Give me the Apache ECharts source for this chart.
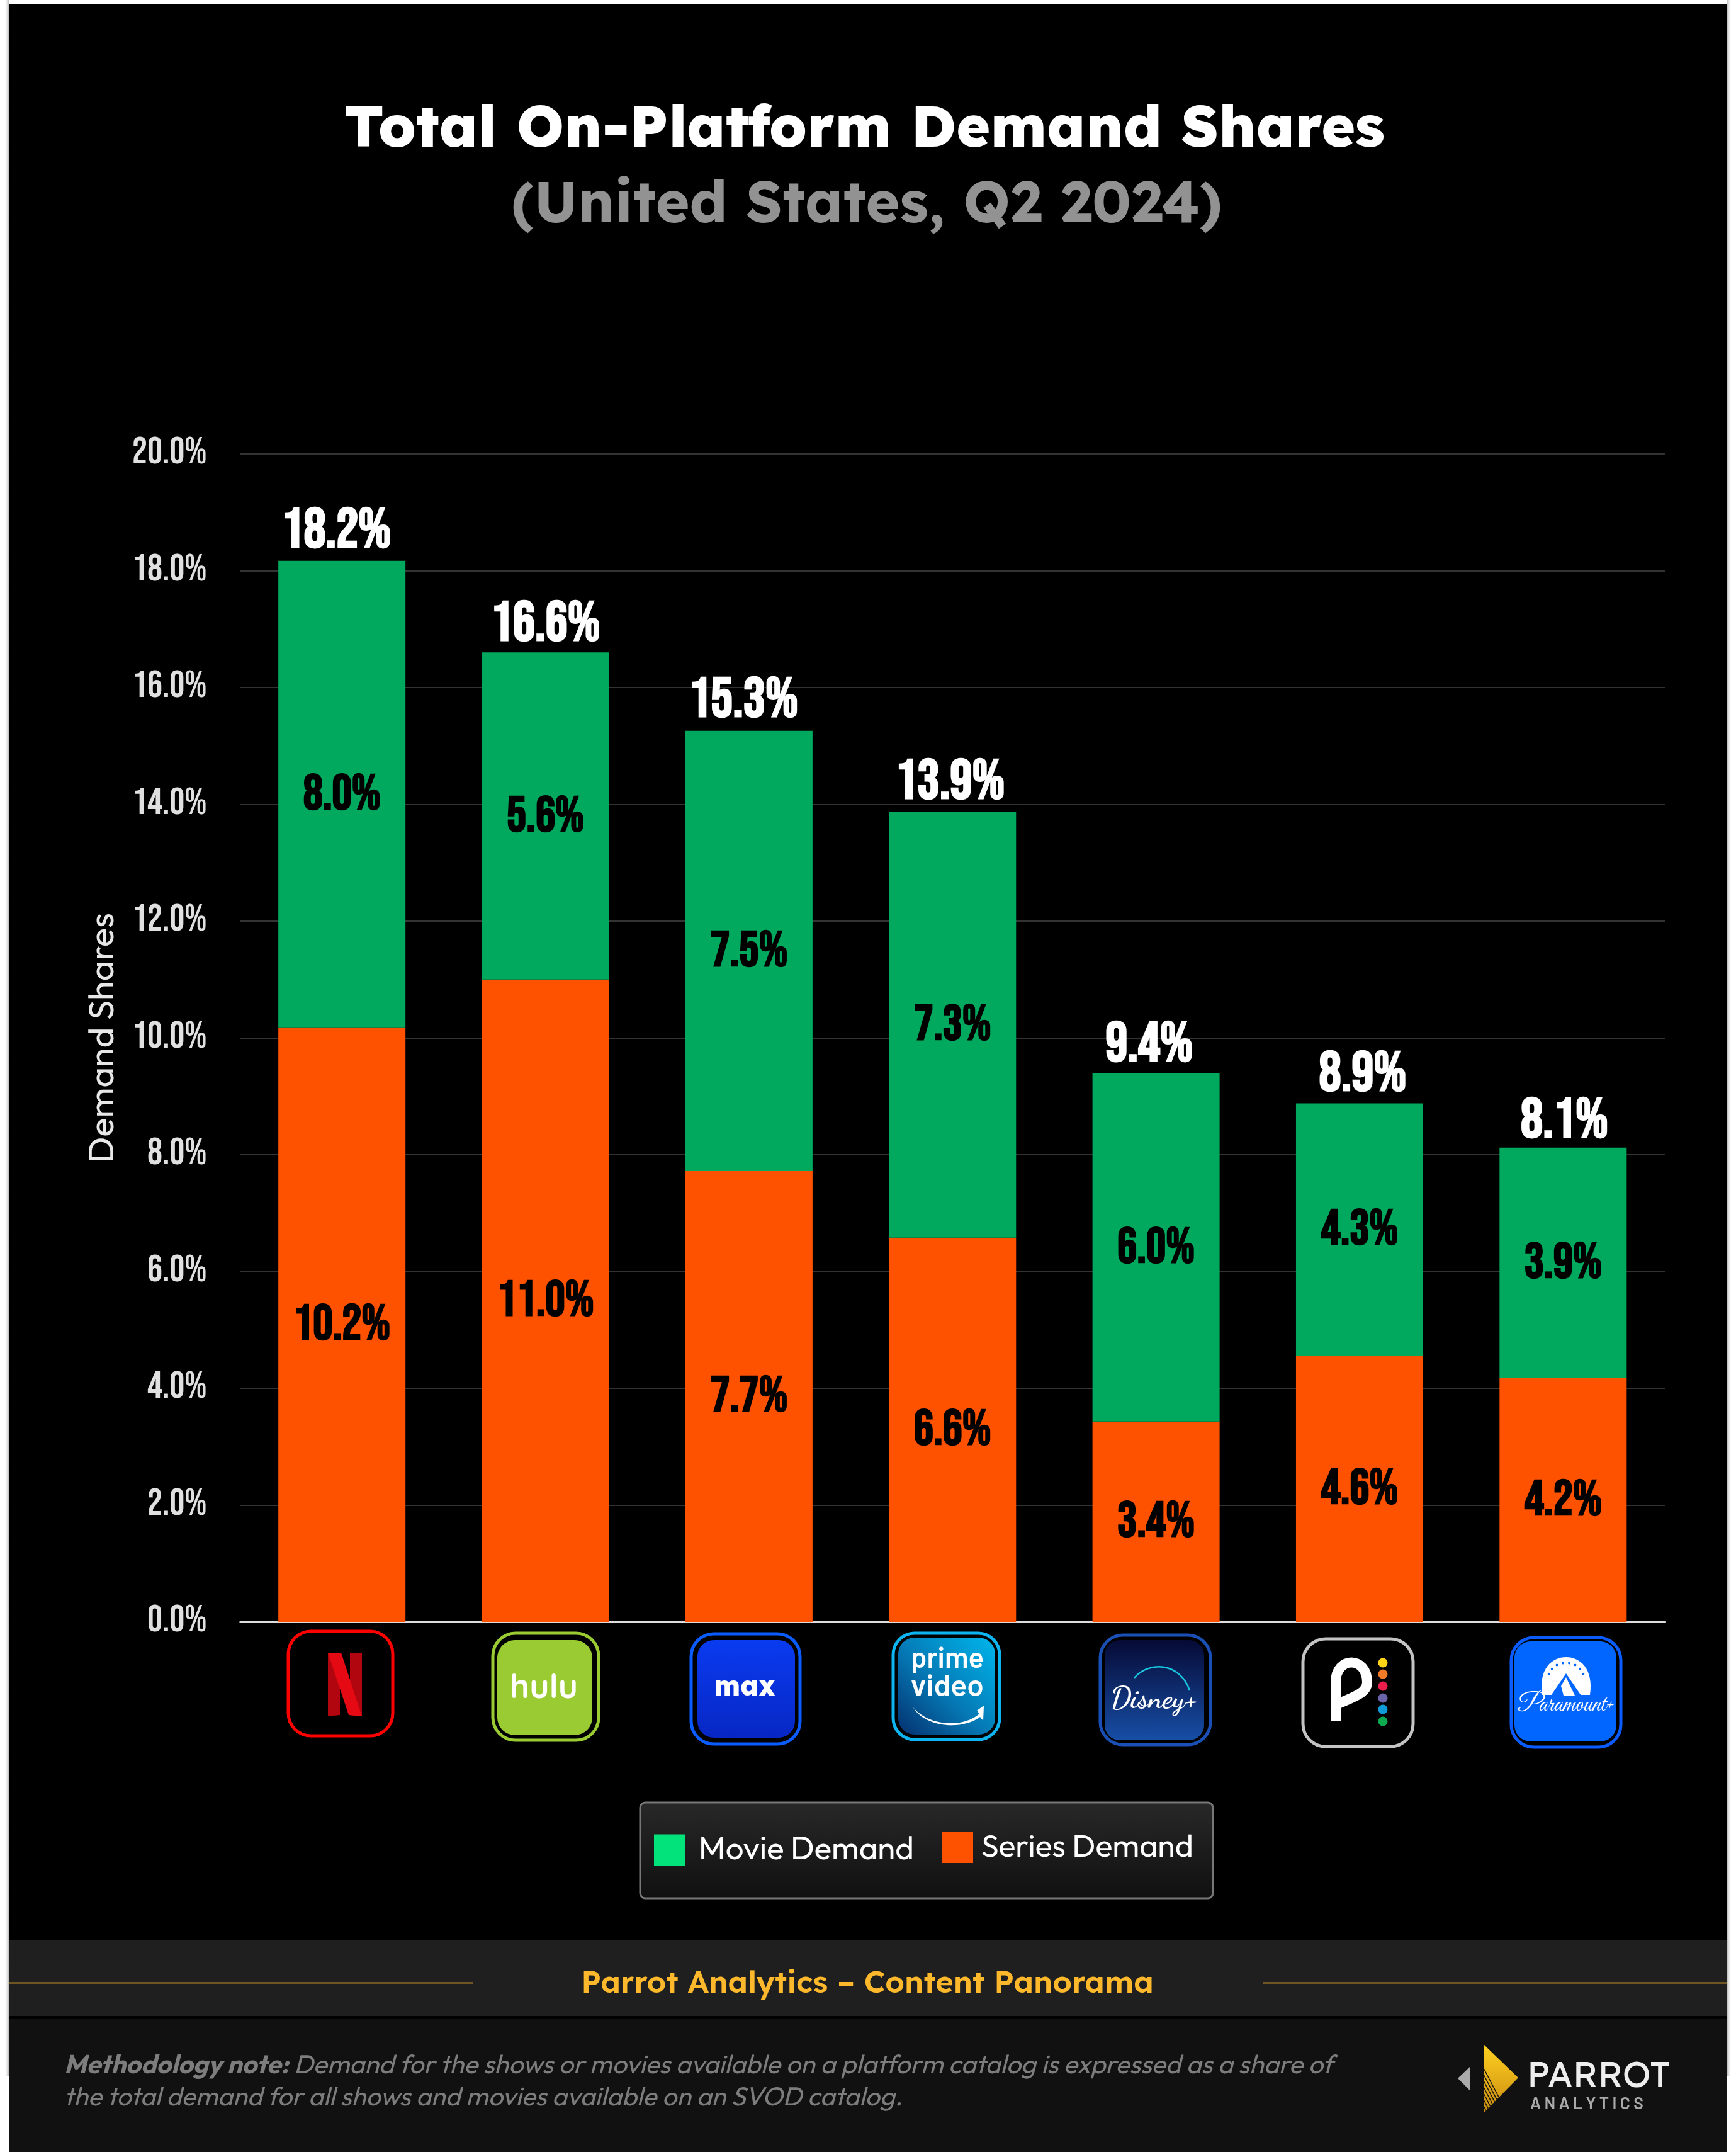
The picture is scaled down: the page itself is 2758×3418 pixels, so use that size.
<!DOCTYPE html>
<html>
<head>
<meta charset="utf-8">
<style>
  html, body { margin: 0; padding: 0; background: #fff; }
  #chart { width: 2758px; height: 3418px; }
</style>
<script src="https://cdn.jsdelivr.net/npm/echarts@6/dist/echarts.min.js"></script>
</head>
<body>
<div id="chart"></div>
<script>
const categories = ['Netflix', 'Hulu', 'Max', 'Prime Video', 'Disney+', 'Peacock', 'Paramount+'];
const seriesDemand = [10.18, 11.0, 7.72, 6.58, 3.43, 4.56, 4.18];
const movieDemand = [7.99, 5.6, 7.54, 7.29, 5.96, 4.32, 3.94];
const totalDemand = [18.2, 16.6, 15.3, 13.9, 9.4, 8.9, 8.1];
// the total labels are not quite centred over the bars in the original
const totalNudge = [-9, 0, -9, -4, -11, 5, 2];

const HEAD = 'Lexend';
const BODY = 'Outfit';
const NUM = '"Bebas Neue", "Oswald", "Roboto Condensed"';
const pct = v => v.toFixed(1) + '%';

const chart = echarts.init(document.getElementById('chart'));

// font size that makes a string come out at the wanted width
const measure = document.createElement('canvas').getContext('2d');
const fit = (text, style, family, width) => {
    measure.font = `${style} 100px ${family}`;
    return 100 * width / measure.measureText(text).width;
};

// helpers for the page furniture and the logos
const box = (x, y, width, height, r, fill, stroke, lineWidth) => ({
    type: 'rect', z: 5,
    shape: { x, y, width, height, r },
    style: { fill: fill || 'none', stroke: stroke || 'none', lineWidth: lineWidth || 0 }
});
const label = (x, y, text, font, fill, align) => ({
    type: 'text', z: 6, x, y,
    style: { text, font, fill, textAlign: align || 'center', textVerticalAlign: 'middle' }
});
// same, sized to a target width
const fitted = (x, y, text, style, family, width, fill, align) =>
    label(x, y, text, `${style} ${fit(text, style, family, width)}px ${family}`, fill, align);
const vgrad = (a, b) => new echarts.graphic.LinearGradient(0, 0, 0, 1, [
    { offset: 0, color: a }, { offset: 1, color: b }
]);
const hgrad = (a, b) => new echarts.graphic.LinearGradient(0, 0, 1, 0, [
    { offset: 0, color: a }, { offset: 1, color: b }
]);
// graphic has no plain path type, so svg paths get registered as shapes
let pathCount = 0;
const path = (d, fill, stroke, lineWidth) => {
    const name = 'logoPath' + pathCount++;
    echarts.graphic.registerShape(name, echarts.graphic.extendPath(d));
    return {
        type: name, z: 6,
        style: { fill: fill || 'none', stroke: stroke || 'none', lineWidth: lineWidth || 0 }
    };
};
const poly = (points, fill) => ({ type: 'polygon', z: 6, shape: { points }, style: { fill } });
const dot = (cx, cy, r, fill) => ({ type: 'circle', z: 6, shape: { cx, cy, r }, style: { fill } });
const seg = (x1, y1, x2, y2, stroke, lineWidth) => ({
    type: 'line', z: 6, shape: { x1, y1, x2, y2 }, style: { stroke, lineWidth }
});

const noteHead = 'Methodology note:';
const noteTail = 'Demand for the shows or movies available on a platform catalog is expressed as a share of';
const noteLine2 = 'the total demand for all shows and movies available on an SVOD catalog.';
const noteSize = fit(noteTail, 'italic', BODY, 1651);

const frame = [
    { type: 'rect', z: -10, shape: { x: 15, y: 7, width: 2728, height: 3411 }, style: { fill: '#000' } },
    { type: 'rect', z: -10, shape: { x: 9, y: 0, width: 6, height: 3297 }, style: { fill: hgrad('rgba(0,0,0,0)', 'rgba(0,0,0,0.3)') } },
    { type: 'rect', z: -10, shape: { x: 2743, y: 0, width: 6, height: 3297 }, style: { fill: hgrad('rgba(0,0,0,0.3)', 'rgba(0,0,0,0)') } },
    { type: 'rect', z: -10, shape: { x: 15, y: 3081, width: 2728, height: 121 }, style: { fill: '#1f1f1f' } },
    { type: 'rect', z: -10, shape: { x: 15, y: 3207, width: 2728, height: 211 }, style: { fill: '#111' } },
    { type: 'rect', z: -10, shape: { x: 15, y: 3148, width: 737, height: 3 }, style: { fill: '#6e5522' } },
    { type: 'rect', z: -10, shape: { x: 2006, y: 3148, width: 737, height: 3 }, style: { fill: '#6e5522' } },
    { ...box(1017, 2863, 910, 152, 8, vgrad('#282828', '#101010'), '#777', 3), z: 1 },
    fitted(1378, 3150, 'Parrot Analytics – Content Panorama', '600', HEAD, 910, '#fdb92b'),
    {
        type: 'text', z: 6, x: 102, y: 3255,
        style: {
            text: `{b|${noteHead}} ${noteTail}\n${noteLine2}`,
            font: `italic ${noteSize}px ${BODY}`, fill: '#7d7d7d', lineHeight: 51,
            rich: { b: { font: `italic bold ${noteSize}px ${BODY}`, fill: '#7d7d7d', lineHeight: 51 } }
        }
    },
    // parrot logo
    poly([[2335, 3283], [2316, 3301], [2335, 3320]], '#aaa'),
    poly([[2357, 3247], [2412, 3300], [2357, 3356]], vgrad('#ffd21f', '#c98a12')),
    ...[0, 1, 2, 3, 4, 5, 6].map(k => {
        const y0 = 3285 + k * 10;
        const t = (3356 - y0) / 2.918;
        return seg(2357, y0, 2357 + t, y0 + 1.9 * t, '#111', 1.5);
    }),
    fitted(2426, 3298, 'PARROT', '400', HEAD, 228, '#eee', 'left'),
    fitted(2431, 3341, 'A N A L Y T I C S', '600', 'Barlow', 180, '#aaa', 'left')
];

const logos = [
    // netflix
    box(458, 2591, 166, 166, 36, 'none', '#ff0000', 5),
    poly([[521, 2625], [540, 2625], [540, 2724], [521, 2726]], '#b1060f'),
    poly([[556, 2625], [575, 2625], [575, 2726], [556, 2724]], '#b1060f'),
    poly([[521, 2625], [542, 2625], [575, 2726], [554, 2724]], '#e50914'),
    // hulu
    box(783, 2594, 168, 170, 36, 'none', '#9bcb32', 5),
    box(790, 2605, 151, 151, 28, '#9bcb32'),
    fitted(864, 2681, 'hulu', '700', 'Quicksand', 108, '#fff'),
    // max
    box(1098, 2595, 173, 175, 36, 'none', '#0a5cff', 5),
    box(1108, 2605, 155, 155, 26, vgrad('#0a3bf0', '#0727c4')),
    fitted(1183, 2680, 'max', '800', HEAD, 98, '#fff'),
    // prime video
    box(1419, 2594, 169, 169, 34, 'none', '#0db4f0', 5),
    box(1427, 2601, 154, 154, 26, new echarts.graphic.LinearGradient(1, 0, 0, 1, [
        { offset: 0, color: '#00b6ec' }, { offset: 0.55, color: '#0578b4' }, { offset: 1, color: '#04306e' }
    ])),
    fitted(1505, 2634, 'prime', '600', 'Barlow', 116, '#fff'),
    fitted(1505, 2678, 'video', '600', 'Barlow', 116, '#fff'),
    path('M1450 2711 C1475 2742 1530 2745 1556 2722 L1552 2717 L1563 2709 L1562 2733 L1557 2727 C1530 2748 1470 2745 1450 2711 Z', '#fff'),
    // disney+
    box(1748, 2597, 175, 174, 36, 'none', '#1a50b5', 5),
    box(1755, 2605, 158, 159, 24, vgrad('#060a35', '#174ea6')),
    path('M1802 2665 C1825 2638 1875 2640 1890 2685', 'none', '#18c8e0', 2.5),
    fitted(1834, 2699, 'Disney+', '700', '"Dancing Script"', 139, '#fff'),
    // peacock
    box(2070, 2603, 175, 171, 36, '#000', '#c4c4c4', 5),
    path('M2122 2734 L2122 2672 C2122 2630 2172 2630 2172 2672 C2172 2690 2150 2695 2122 2708', 'none', '#fff', 16),
    dot(2197, 2641, 7.5, '#ffd516'), dot(2197, 2659, 7.5, '#f07a28'), dot(2197, 2678, 7.5, '#eb1e4b'),
    dot(2197, 2697, 7.5, '#6a64a8'), dot(2197, 2715, 7.5, '#0e9bd8'), dot(2197, 2734, 7.5, '#0baa50'),
    // paramount+
    box(2401, 2601, 174, 174, 36, 'none', '#0a5cff', 5),
    box(2406, 2607, 162, 159, 26, '#0066ff'),
    path('M2450 2692 C2444 2650 2466 2632 2488 2632 C2510 2632 2532 2650 2526 2692 Z', '#fff'),
    ...[-70, -50, -30, -10, 10, 30, 50, 70].map(a => {
        const rad = a * Math.PI / 180;
        return dot(2488 + 29 * Math.sin(rad), 2668 - 27 * Math.cos(rad), 2, '#0066ff');
    }),
    poly([[2488, 2658], [2512, 2693], [2464, 2693]], '#0066ff'),
    poly([[2488, 2664], [2502, 2693], [2484, 2693], [2480, 2678]], '#fff'),
    fitted(2488, 2710, 'Paramount+', '400', '"Great Vibes"', 153, '#fff')
];

const segmentLabel = {
    show: true, position: 'inside', color: '#000', offset: [0, 4],
    fontFamily: NUM, fontWeight: 'bold', fontSize: 78,
    formatter: p => pct(p.value)
};

chart.setOption({
    backgroundColor: '#fff',
    animation: false,
    title: [
        {
            text: 'Total On-Platform Demand Shares',
            left: 1368, top: 150, textAlign: 'center',
            textStyle: {
                color: '#fff', fontFamily: HEAD, fontWeight: 800, lineHeight: 100,
                fontSize: fit('Total On-Platform Demand Shares', '800', HEAD, 1653)
            }
        },
        {
            text: '(United States, Q2 2024)',
            left: 1372, top: 270, textAlign: 'center',
            textStyle: {
                color: '#929292', fontFamily: HEAD, fontWeight: 700, lineHeight: 100,
                fontSize: fit('(United States, Q2 2024)', '700', HEAD, 1130)
            }
        }
    ],
    legend: [
        {
            data: [{ name: 'Movie Demand', itemStyle: { color: '#02e37c' } }],
            left: 1039, top: 2913, padding: 0, icon: 'rect', itemWidth: 50, itemHeight: 50,
            textStyle: {
                color: '#fff', fontFamily: BODY, padding: [0, 0, 0, 16],
                fontSize: fit('Movie Demand', '400', BODY, 342)
            }
        },
        {
            data: [{ name: 'Series Demand', itemStyle: { color: '#ff5200' } }],
            left: 1496, top: 2909, padding: 0, icon: 'rect', itemWidth: 50, itemHeight: 50,
            textStyle: {
                color: '#fff', fontFamily: BODY, padding: [0, 0, 0, 8],
                fontSize: fit('Series Demand', '400', BODY, 337)
            }
        }
    ],
    grid: { left: 381.5, right: 113, top: 721, bottom: 842 },
    xAxis: {
        type: 'category',
        data: categories,
        axisTick: { show: false },
        axisLabel: { show: false },
        axisLine: { lineStyle: { color: '#ddd', width: 3 } }
    },
    yAxis: {
        type: 'value',
        min: 0, max: 20, interval: 2,
        name: 'Demand Shares',
        nameLocation: 'middle',
        nameGap: 190,
        nameTextStyle: {
            color: '#e8e8e8', fontFamily: BODY,
            fontSize: fit('Demand Shares', '400', BODY, 397)
        },
        axisLabel: {
            color: '#e0e0e0', fontFamily: NUM, fontSize: 60, margin: 53,
            padding: [3, 0, 0, 0],
            formatter: pct
        },
        splitLine: { lineStyle: { color: '#333', width: 2 } }
    },
    series: [
        {
            name: 'Series Demand',
            type: 'bar', stack: 'demand', barWidth: 202,
            data: seriesDemand,
            itemStyle: { color: '#ff5200' },
            label: segmentLabel
        },
        {
            name: 'Movie Demand',
            type: 'bar', stack: 'demand', barWidth: 202,
            data: movieDemand,
            itemStyle: { color: '#00a95e' },
            label: segmentLabel
        },
        {
            // invisible line, only carries the total above each stack
            name: 'Total',
            type: 'line',
            data: totalDemand.map((v, i) => ({ value: v, label: { offset: [totalNudge[i], 3] } })),
            symbol: 'circle', symbolSize: 0,
            lineStyle: { opacity: 0 },
            silent: true,
            label: {
                show: true, position: 'top', distance: 0, color: '#fff',
                fontFamily: NUM, fontWeight: 'bold', fontSize: 88,
                formatter: p => pct(p.value)
            }
        }
    ],
    graphic: { elements: frame.concat(logos) }
});
</script>
</body>
</html>
